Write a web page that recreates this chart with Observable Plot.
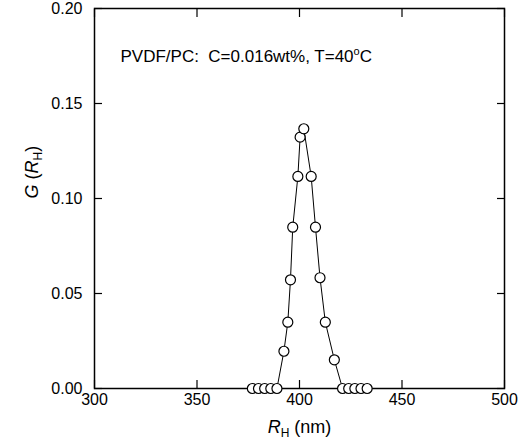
<!DOCTYPE html>
<html><head><meta charset="utf-8">
<script src="https://cdn.jsdelivr.net/npm/d3@7"></script>
<script src="https://cdn.jsdelivr.net/npm/@observablehq/plot@0.6"></script>
<style>body{margin:0;background:#fff}</style>
</head><body><div id="chart"></div>
<script>
// Data
const rh = [377, 380, 383, 386, 389, 392.4, 394.3, 395.6, 396.7, 399.2, 400.3, 402.1, 405.7, 407.8, 410.0, 412.6, 417.0, 421, 424, 427, 430, 433];
const g  = [0, 0, 0, 0, 0, 0.0196, 0.0349, 0.0572, 0.0849, 0.1116, 0.1323, 0.1367, 0.1116, 0.0849, 0.0583, 0.0349, 0.0151, 0, 0, 0, 0, 0];
const xTicks = [300, 350, 400, 450, 500];
const yTicks = [0, 0.05, 0.10, 0.15, 0.20];
const yTickLabels = ["0.00", "0.05", "0.10", "0.15", "0.20"];
const xLabel = "RH (nm)";
const yLabel = "G (RH)";
const annotation = "PVDF/PC:  C=0.016wt%, T=40oC";

const data = rh.map((x, i) => ({x, y: g[i]}));
const font = "'Liberation Sans', Arial, Helvetica, sans-serif";

const chart = Plot.plot({
  width: 521,
  height: 439,
  marginLeft: 94,
  marginRight: 17,
  marginTop: 8,
  marginBottom: 51,
  style: {fontFamily: font, fontSize: "16px", background: "white", color: "black"},
  x: {domain: [300, 500]},
  y: {domain: [0, 0.2]},
  marks: [
    Plot.axisX({ticks: xTicks, anchor: "bottom", tickSize: -8, fill: "none", strokeWidth: 1.2}),
    Plot.axisX({ticks: xTicks, anchor: "top", tickSize: -8, fill: "none", strokeWidth: 1.2}),
    Plot.axisY({ticks: yTicks, anchor: "left", tickSize: -8, fill: "none", strokeWidth: 1.2}),
    Plot.axisY({ticks: yTicks, anchor: "right", tickSize: -8, fill: "none", strokeWidth: 1.2}),
    Plot.axisX({ticks: xTicks, anchor: "bottom", tickSize: 0, tickPadding: 5, label: null, fontSize: 16}),
    Plot.axisY({ticks: yTicks, anchor: "left", tickSize: 0, tickPadding: 12, label: null, fontSize: 16,
      tickFormat: d => yTickLabels[yTicks.indexOf(d)]}),
    Plot.frame({stroke: "black", strokeWidth: 1.5}),
    Plot.line(data, {x: "x", y: "y", stroke: "black", strokeWidth: 1}),
    Plot.dot(data, {x: "x", y: "y", r: 5, fill: "white", stroke: "black", strokeWidth: 1.2}),
    Plot.text([annotation], {frameAnchor: "top-left", dx: 26, dy: 48, lineAnchor: "middle", textAnchor: "start", fontSize: 17, className: "annot"}),
    Plot.text([xLabel], {frameAnchor: "bottom", dy: 39, lineAnchor: "middle", fontSize: 18, className: "xlab"}),
    Plot.text([yLabel], {frameAnchor: "left", dx: -62, rotate: -90, lineAnchor: "middle", fontSize: 18, className: "ylab"})
  ]
});

function rich(node, parts) {
  const t = d3.select(node);
  t.text(null);
  let shift = 0;
  for (const p of parts) {
    const s = t.append("tspan").text(p.t);
    if (p.italic) s.attr("font-style", "italic");
    if (p.size) s.attr("font-size", p.size);
    const target = p.shift || 0;
    if (target !== shift) { s.attr("dy", (target - shift) + "px"); shift = target; }
  }
}
const svg = d3.select(chart);
svg.selectAll(".xlab text").each(function() {
  rich(this, [{t: "R", italic: true}, {t: "H", size: "12px", shift: 4}, {t: " (nm)"}]);
});
svg.selectAll(".ylab text").each(function() {
  rich(this, [{t: "G", italic: true}, {t: " ("}, {t: "R", italic: true}, {t: "H", size: "12px", shift: 4}, {t: ")"}]);
});
svg.selectAll(".annot text").each(function() {
  rich(this, [{t: "PVDF/PC:\u00a0 C=0.016wt%, T=40"}, {t: "o", size: "11px", shift: -7}, {t: "C"}]);
});
document.getElementById("chart").appendChild(chart);
</script>
</body></html>
